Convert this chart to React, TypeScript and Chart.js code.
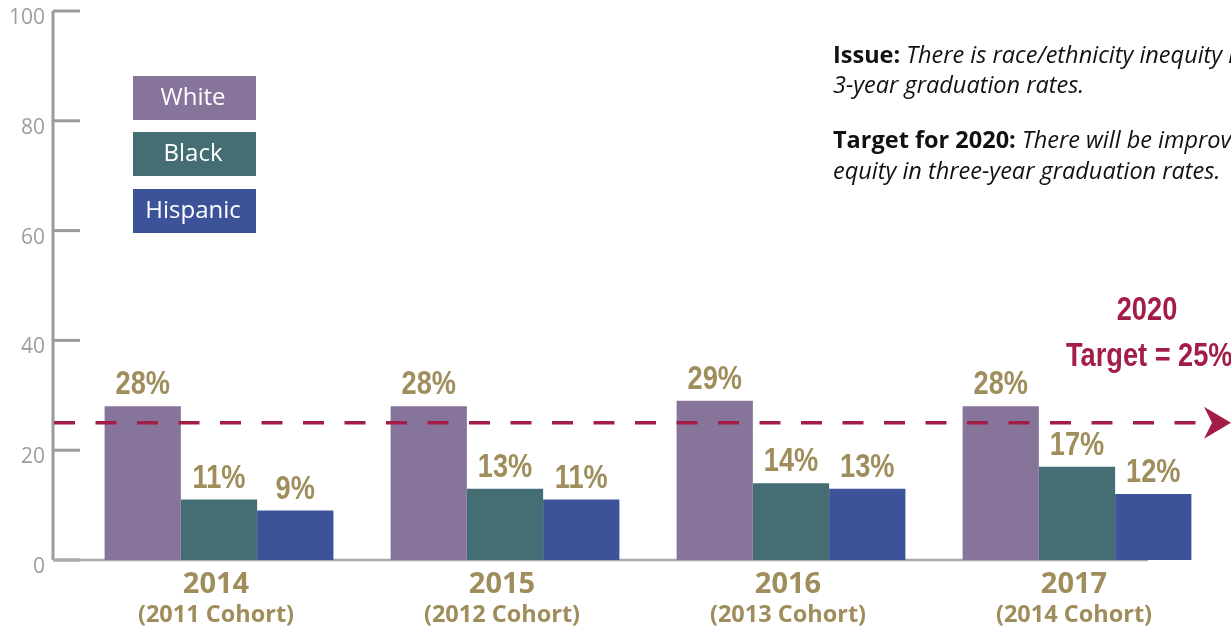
import React, { useEffect, useRef } from "react";
import { Chart, registerables } from "chart.js";

Chart.register(...registerables);

const years = ["2014", "2015", "2016", "2017"];
const cohorts = ["(2011 Cohort)", "(2012 Cohort)", "(2013 Cohort)", "(2014 Cohort)"];
const seriesNames = ["White", "Black", "Hispanic"];
const whiteRates = [28, 28, 29, 28];
const blackRates = [11, 13, 14, 17];
const hispanicRates = [9, 11, 13, 12];
const seriesColors = ["#87749a", "#446e74", "#3c5399"];
const yTickValues = [0, 20, 40, 60, 80, 100];
const targetValue = 25;
const targetLines = ["2020", "Target = 25%"];
const issueLead = "Issue:";
const issueText = [" There is race/ethnicity inequity in", "3-year graduation rates."];
const targetLead = "Target for 2020:";
const targetText = [" There will be improved", "equity in three-year graduation rates."];

const OLIVE = "#9f8e5c";
const CRIMSON = "#a31e46";
const AXIS_GRAY = "#9b9b9f";
const COND_FONT = "bold 34px 'Liberation Sans', Arial, sans-serif";

function drawCondensed(ctx: CanvasRenderingContext2D, text: string, x: number, y: number, align: CanvasTextAlign) {
  ctx.save();
  ctx.translate(x, y);
  ctx.scale(0.8, 1);
  ctx.textAlign = align;
  ctx.textBaseline = "alphabetic";
  ctx.fillText(text, 0, 0);
  ctx.restore();
}

const decorPlugin = {
  id: "decor",
  beforeDatasetsDraw(chart: any) {
    const { ctx, chartArea, scales } = chart;
    const y = scales.y;
    const axisX = chartArea.left - 23;
    ctx.save();
    ctx.strokeStyle = AXIS_GRAY;
    ctx.lineWidth = 3;
    ctx.beginPath();
    ctx.moveTo(axisX, y.getPixelForValue(100));
    ctx.lineTo(axisX, y.getPixelForValue(0));
    ctx.stroke();
    yTickValues.forEach((v) => {
      const py = y.getPixelForValue(v);
      ctx.beginPath();
      ctx.moveTo(axisX, py);
      ctx.lineTo(axisX + 27, py);
      ctx.stroke();
    });
    ctx.strokeStyle = "#a9a9ab";
    ctx.lineWidth = 2.5;
    ctx.beginPath();
    ctx.moveTo(axisX, y.getPixelForValue(0));
    ctx.lineTo(chartArea.right - 72, y.getPixelForValue(0));
    ctx.stroke();
    ctx.restore();
  },
  afterDatasetsDraw(chart: any) {
    const { ctx, chartArea, scales } = chart;
    const x = scales.x;
    const y = scales.y;
    ctx.save();

    // data labels
    ctx.fillStyle = OLIVE;
    ctx.font = COND_FONT;
    chart.data.datasets.forEach((ds: any, di: number) => {
      const meta = chart.getDatasetMeta(di);
      meta.data.forEach((bar: any, i: number) => {
        drawCondensed(ctx, ds.data[i] + "%", bar.x, bar.y - 12, "center");
      });
    });

    // target dashed line with arrow
    const ty = y.getPixelForValue(targetValue);
    const axisX = chartArea.left - 22;
    ctx.strokeStyle = CRIMSON;
    ctx.lineWidth = 3.5;
    ctx.setLineDash([21, 20.5]);
    ctx.beginPath();
    ctx.moveTo(axisX, ty);
    ctx.lineTo(1203, ty);
    ctx.stroke();
    ctx.setLineDash([]);
    ctx.fillStyle = CRIMSON;
    ctx.beginPath();
    ctx.moveTo(1231, ty);
    ctx.lineTo(1204, ty - 16);
    ctx.lineTo(1212, ty);
    ctx.lineTo(1204, ty + 16);
    ctx.closePath();
    ctx.fill();

    ctx.font = COND_FONT;
    drawCondensed(ctx, targetLines[0], 1147, 320, "center");
    drawCondensed(ctx, targetLines[1], 1066, 366, "left");

    // x labels
    ctx.fillStyle = OLIVE;
    ctx.textAlign = "center";
    ctx.textBaseline = "alphabetic";
    years.forEach((yr, i) => {
      const px = x.getPixelForValue(i) - 3;
      ctx.font = "bold 29px 'Open Sans', sans-serif";
      ctx.fillText(yr, px, 593);
      ctx.font = "bold 23.5px 'Open Sans', sans-serif";
      ctx.fillText(cohorts[i], px, 622);
    });

    // legend
    const boxTops = [76, 132, 189];
    seriesNames.forEach((name, i) => {
      ctx.fillStyle = seriesColors[i];
      ctx.fillRect(133, boxTops[i], 123, 44);
      ctx.fillStyle = "#ffffff";
      ctx.font = "24px 'Open Sans', sans-serif";
      ctx.textAlign = "center";
      ctx.fillText(name, 193, boxTops[i] + 29);
    });

    // annotation
    ctx.fillStyle = "#111111";
    ctx.textAlign = "left";
    const drawLead = (lead: string, rest: string, bx: number, by: number) => {
      ctx.font = "bold 23.5px 'Open Sans', sans-serif";
      ctx.fillText(lead, bx, by);
      const w = ctx.measureText(lead).width;
      ctx.font = "italic 23.5px 'Open Sans', sans-serif";
      ctx.fillText(rest, bx + w, by);
    };
    drawLead(issueLead, issueText[0], 833, 63);
    ctx.font = "italic 23.5px 'Open Sans', sans-serif";
    ctx.fillText(issueText[1], 833, 93);
    drawLead(targetLead, targetText[0], 833, 148);
    ctx.font = "italic 23.5px 'Open Sans', sans-serif";
    ctx.fillText(targetText[1], 833, 179);

    ctx.restore();
  },
};

export default function App() {
  const canvasRef = useRef<HTMLCanvasElement | null>(null);

  useEffect(() => {
    document.body.style.margin = "0";
    const canvas = canvasRef.current;
    if (!canvas) return;
    const chart = new Chart(canvas, {
      type: "bar",
      data: {
        labels: years,
        datasets: [
          { label: seriesNames[0], data: whiteRates, backgroundColor: seriesColors[0] },
          { label: seriesNames[1], data: blackRates, backgroundColor: seriesColors[1] },
          { label: seriesNames[2], data: hispanicRates, backgroundColor: seriesColors[2] },
        ],
      },
      options: {
        responsive: false,
        animation: false,
        devicePixelRatio: 1,
        layout: { padding: { top: 11, right: 11, bottom: 70, left: 0 } },
        datasets: { bar: { categoryPercentage: 0.8, barPercentage: 1.0 } },
        plugins: { legend: { display: false }, tooltip: { enabled: false }, title: { display: false } },
        scales: {
          x: { display: false, offset: true },
          y: {
            min: 0,
            max: 100,
            afterFit: (s: any) => {
              s.width = 76;
              s.paddingTop = 0;
              s.paddingBottom = 0;
            },
            afterBuildTicks: (s: any) => {
              s.ticks = yTickValues.map((v) => ({ value: v }));
            },
            grid: { display: false, drawTicks: false },
            border: { display: false },
            ticks: {
              color: "#9d9da2",
              font: { family: "'Open Sans', sans-serif", size: 21 },
              padding: 31,
              labelOffset: 7,
            },
          },
        },
      },
      plugins: [decorPlugin],
    });
    return () => chart.destroy();
  }, []);

  return (
    <div style={{ width: 1231, height: 630 }}>
      <canvas ref={canvasRef} width={1231} height={630} />
    </div>
  );
}
